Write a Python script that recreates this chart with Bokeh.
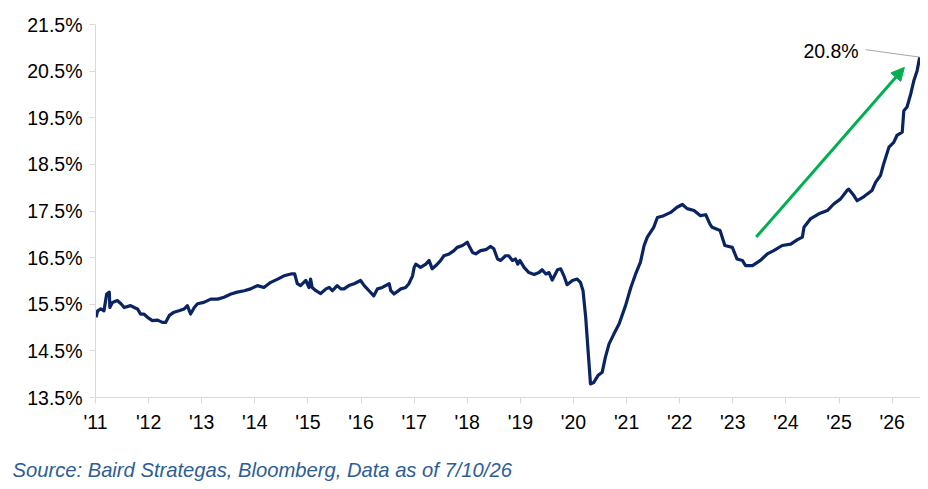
from bokeh.plotting import figure
from bokeh.models import (Range1d, FixedTicker, PrintfTickFormatter, Label, Arrow,
                          NormalHead, ColumnDataSource, Title, LinearAxis)
from bokeh.embed import file_html
from bokeh.resources import INLINE

# ---- data (decimal year, % value) ----
dates = [
    2011.01, 2011.04, 2011.10, 2011.16, 2011.21, 2011.26, 2011.27, 2011.32, 2011.41, 2011.48,
    2011.54, 2011.66, 2011.73, 2011.79, 2011.85, 2011.91, 2011.98, 2012.07, 2012.17, 2012.26,
    2012.32, 2012.39, 2012.48, 2012.57, 2012.67, 2012.73, 2012.79, 2012.86, 2012.92, 2013.04,
    2013.17, 2013.30, 2013.42, 2013.55, 2013.67, 2013.80, 2013.92, 2014.05, 2014.17, 2014.30,
    2014.43, 2014.55, 2014.68, 2014.75, 2014.80, 2014.86, 2014.96, 2015.02, 2015.05, 2015.08,
    2015.15, 2015.24, 2015.34, 2015.40, 2015.46, 2015.55, 2015.62, 2015.68, 2015.77, 2015.87,
    2015.99, 2016.06, 2016.15, 2016.24, 2016.31, 2016.40, 2016.53, 2016.56, 2016.62, 2016.75,
    2016.84, 2016.90, 2016.97, 2017.00, 2017.03, 2017.12, 2017.22, 2017.28, 2017.34, 2017.41,
    2017.50, 2017.56, 2017.66, 2017.75, 2017.81, 2017.91, 2018.00, 2018.03, 2018.10, 2018.16,
    2018.25, 2018.35, 2018.44, 2018.50, 2018.57, 2018.63, 2018.72, 2018.78, 2018.85, 2018.91,
    2018.95, 2018.99, 2019.07, 2019.16, 2019.26, 2019.35, 2019.41, 2019.48, 2019.54, 2019.60,
    2019.70, 2019.76, 2019.82, 2019.88, 2019.98, 2020.07, 2020.13, 2020.18, 2020.23, 2020.27,
    2020.32, 2020.38, 2020.46, 2020.54, 2020.60, 2020.67, 2020.76, 2020.86, 2020.98, 2021.08,
    2021.17, 2021.26, 2021.33, 2021.39, 2021.51, 2021.58, 2021.70, 2021.83, 2021.95, 2022.05,
    2022.14, 2022.27, 2022.39, 2022.49, 2022.57, 2022.61, 2022.76, 2022.85, 2022.99, 2023.08,
    2023.18, 2023.24, 2023.37, 2023.52, 2023.65, 2023.77, 2023.93, 2024.09, 2024.21, 2024.31,
    2024.34, 2024.46, 2024.62, 2024.78, 2024.90, 2025.03, 2025.15, 2025.18, 2025.28, 2025.34,
    2025.47, 2025.62, 2025.69, 2025.78, 2025.84, 2025.94, 2026.03, 2026.09, 2026.19, 2026.22,
    2026.28, 2026.35, 2026.41, 2026.47, 2026.52,
]
values = [
    15.22, 15.36, 15.40, 15.36, 15.72, 15.76, 15.43, 15.54, 15.58, 15.51,
    15.43, 15.47, 15.43, 15.40, 15.29, 15.29, 15.22, 15.15, 15.16, 15.11,
    15.11, 15.26, 15.33, 15.36, 15.40, 15.47, 15.29, 15.43, 15.51, 15.54,
    15.61, 15.61, 15.65, 15.72, 15.76, 15.79, 15.83, 15.90, 15.86, 15.97,
    16.04, 16.11, 16.15, 16.15, 15.94, 15.90, 16.01, 15.86, 16.04, 15.86,
    15.79, 15.73, 15.83, 15.86, 15.79, 15.90, 15.83, 15.83, 15.90, 15.94,
    16.01, 15.90, 15.79, 15.68, 15.83, 15.86, 15.94, 15.79, 15.72, 15.83,
    15.86, 15.94, 16.11, 16.29, 16.36, 16.29, 16.36, 16.44, 16.26, 16.33,
    16.44, 16.54, 16.58, 16.65, 16.72, 16.76, 16.83, 16.76, 16.61, 16.58,
    16.65, 16.67, 16.74, 16.69, 16.47, 16.44, 16.54, 16.54, 16.44, 16.47,
    16.36, 16.44, 16.29, 16.18, 16.14, 16.18, 16.24, 16.15, 16.18, 16.02,
    16.24, 16.26, 16.11, 15.92, 16.01, 16.04, 15.97, 15.79, 15.22, 14.58,
    13.79, 13.82, 13.97, 14.04, 14.36, 14.65, 14.86, 15.08, 15.47, 15.86,
    16.15, 16.40, 16.76, 16.94, 17.15, 17.36, 17.40, 17.47, 17.58, 17.64,
    17.55, 17.51, 17.40, 17.42, 17.22, 17.15, 17.08, 16.76, 16.72, 16.47,
    16.44, 16.33, 16.33, 16.44, 16.58, 16.65, 16.76, 16.79, 16.88, 16.94,
    17.15, 17.33, 17.44, 17.51, 17.65, 17.76, 17.94, 17.97, 17.83, 17.72,
    17.81, 17.94, 18.12, 18.26, 18.51, 18.87, 18.97, 19.12, 19.19, 19.65,
    19.73, 20.01, 20.30, 20.51, 20.80,
]

year_ticks = list(range(2011, 2027))
year_labels = ["'" + str(y)[2:] for y in year_ticks]
pct_ticks = [13.5, 14.5, 15.5, 16.5, 17.5, 18.5, 19.5, 20.5, 21.5]

# annotation anchors (data units)
last_label = "20.8%"
label_x, label_y = 2025.37, 20.94
leader_start = (2025.50, 20.96)
arrow_start = (2023.44, 16.94)
arrow_end = (2026.23, 20.58)
source_text = "Source: Baird Strategas, Bloomberg, Data as of 7/10/26"

FONT = "Liberation Sans"
AXIS_GRAY = "#D9D9D9"
NAVY = "#0A2463"

p = figure(width=920, height=489, output_backend="svg", toolbar_location=None,
           x_range=Range1d(2011, 2026.534), y_range=Range1d(13.5, 21.5))
p.min_border_left = 95
p.min_border_right = 0
p.min_border_top = 24
p.min_border_bottom = 92
p.outline_line_color = None
p.xgrid.visible = False
p.ygrid.visible = False

# axes
p.xaxis.ticker = FixedTicker(ticks=year_ticks)
p.xaxis.major_label_overrides = {y: l for y, l in zip(year_ticks, year_labels)}
p.yaxis.ticker = FixedTicker(ticks=pct_ticks)
p.yaxis.formatter = PrintfTickFormatter(format="%.1f%%")
for ax in (p.xaxis, p.yaxis):
    ax.axis_line_color = AXIS_GRAY
    ax.axis_line_width = 1
    ax.major_tick_line_color = AXIS_GRAY
    ax.major_tick_in = 0
    ax.major_tick_out = 6
    ax.minor_tick_line_color = None
    ax.major_label_text_font = FONT
    ax.major_label_text_font_size = "19.5px"
    ax.major_label_text_color = "#000000"
p.xaxis.major_label_standoff = 7
p.yaxis.major_label_standoff = 7

# invisible spacer between the x axis and the source note
spacer = LinearAxis(ticker=FixedTicker(ticks=[year_ticks[0]]), axis_line_color=None,
                    major_tick_line_color=None, minor_tick_line_color=None,
                    major_tick_in=0, major_tick_out=13, minor_tick_out=0,
                    major_label_standoff=0, major_label_text_font_size="1px",
                    major_label_text_color=None,
                    major_label_overrides={year_ticks[0]: ""})
p.add_layout(spacer, "below")

# series
src = ColumnDataSource(data=dict(x=dates, y=values))
p.line("x", "y", source=src, line_color=NAVY, line_width=3.2, line_join="round")

# leader line + last value label
p.segment(x0=[leader_start[0]], y0=[leader_start[1]], x1=[dates[-1]], y1=[values[-1]],
          line_color="#A6A6A6", line_width=1)
p.add_layout(Label(x=label_x, y=label_y, text=last_label, text_align="right",
                   text_baseline="middle", text_font=FONT, text_font_size="19.5px",
                   text_color="#000000"))

# green arrow
p.add_layout(Arrow(end=NormalHead(size=13, fill_color="#00B050", line_color="#00B050"),
                   x_start=arrow_start[0], y_start=arrow_start[1],
                   x_end=arrow_end[0], y_end=arrow_end[1],
                   line_color="#00B050", line_width=3))

# source note
p.add_layout(Title(text=source_text, align="left", offset=-83, standoff=16,
                   text_font=FONT, text_font_size="20.2px", text_font_style="italic",
                   text_color="#2E5D96"), "below")

open("out.html", "w").write(file_html(p, INLINE))
